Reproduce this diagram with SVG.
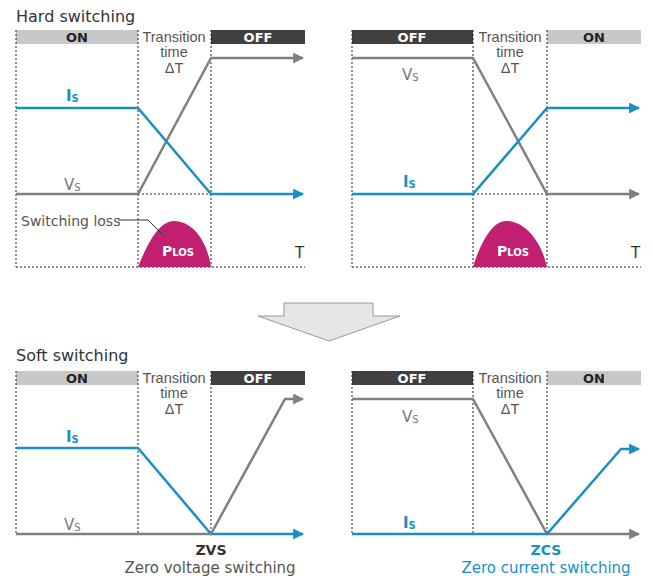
<svg xmlns="http://www.w3.org/2000/svg" width="653" height="576" viewBox="0 0 653 576">
<style>
text{font-family:"DejaVu Sans","Liberation Sans",sans-serif}
.title{font-size:16px;fill:#333}
.bar-lbl{font-size:13px;font-weight:bold;text-anchor:middle}
.tt{font-family:"Liberation Sans",Arial,sans-serif;font-size:14.5px;fill:#555;text-anchor:middle}
.dot{stroke:#222;stroke-width:1;stroke-dasharray:2,2;fill:none}
.vs{stroke:#808080;stroke-width:2.5;fill:none;stroke-linejoin:miter}
.is{stroke:#1a8fc6;stroke-width:2.5;fill:none}
.lblv{font-size:15px;fill:#777}
.lbli{font-size:15px;fill:#1a8fc6;font-weight:bold}
.sub{font-size:10px}
.loss{fill:#c0206f}
.ploss{font-size:14px;fill:#fff;font-weight:bold;text-anchor:middle}
</style>
<defs>
<marker id="ag" viewBox="0 0 10 10" refX="9" refY="5" markerWidth="4.4" markerHeight="4.4" orient="auto" markerUnits="strokeWidth"><path d="M0,0 L10,5 L0,10 Z" fill="#808080"/></marker>
<marker id="ab" viewBox="0 0 10 10" refX="9" refY="5" markerWidth="4.4" markerHeight="4.4" orient="auto" markerUnits="strokeWidth"><path d="M0,0 L10,5 L0,10 Z" fill="#1a8fc6"/></marker>
</defs>

<text class="title" x="16" y="22">Hard switching</text>
<text class="title" x="16" y="361">Soft switching</text>

<!-- Top-left panel -->
<g id="hard-on-off">
<rect x="16" y="30" width="122" height="14" fill="#c8c8c8"/>
<text class="bar-lbl" x="77" y="42" fill="#222">ON</text>
<rect x="211" y="30" width="94" height="14" fill="#404040"/>
<text class="bar-lbl" x="258" y="42" fill="#fff">OFF</text>
<text class="tt" x="174" y="42">Transition</text>
<text class="tt" x="174" y="57">time</text>
<text class="tt" x="174" y="73">ΔT</text>
<path class="dot" d="M16,30V267M138,30V267M211,30V267M16,267H305M138,194H211"/>
<path class="loss" d="M138,267 C146,247 158,221 174,221 C192,221 207,240 211,267 Z"/>
<text class="ploss" x="178" y="256">P<tspan class="sub" font-size="11">LOS</tspan></text>
<path d="M118,220H148L163,235" fill="none" stroke="#333" stroke-width="1"/>
<text x="21" y="226" font-size="14" fill="#555">Switching loss</text>
<text x="295" y="258" font-size="15" fill="#333">T</text>
<text class="lbli" x="66" y="101">I<tspan class="sub" dy="1">S</tspan></text>
<text class="lblv" x="64" y="190">V<tspan class="sub" dy="1">S</tspan></text>
</g>

<!-- Top-right panel -->
<g id="hard-off-on">
<rect x="352" y="30" width="121" height="14" fill="#404040"/>
<text class="bar-lbl" x="412" y="42" fill="#fff">OFF</text>
<rect x="547" y="30" width="94" height="14" fill="#c8c8c8"/>
<text class="bar-lbl" x="594" y="42" fill="#222">ON</text>
<text class="tt" x="510" y="42">Transition</text>
<text class="tt" x="510" y="57">time</text>
<text class="tt" x="510" y="73">ΔT</text>
<path class="dot" d="M352,30V267M473,30V267M547,30V267M352,267H641M473,194H547"/>
<path class="loss" d="M473,267 C479,247 491,221 506,221 C524,221 541,240 547,267 Z"/>
<text class="ploss" x="513" y="256">P<tspan class="sub" font-size="11">LOS</tspan></text>
<text x="631" y="258" font-size="15" fill="#333">T</text>
<text class="lblv" x="402" y="80">V<tspan class="sub" dy="1">S</tspan></text>
<text class="lbli" x="403" y="187">I<tspan class="sub" dy="1">S</tspan></text>
</g>

<!-- Bottom-left panel -->
<g id="soft-zvs">
<rect x="16" y="371" width="122" height="14" fill="#c8c8c8"/>
<text class="bar-lbl" x="77" y="383" fill="#222">ON</text>
<rect x="211" y="371" width="94" height="14" fill="#404040"/>
<text class="bar-lbl" x="258" y="383" fill="#fff">OFF</text>
<text class="tt" x="174" y="383">Transition</text>
<text class="tt" x="174" y="398">time</text>
<text class="tt" x="174" y="414">ΔT</text>
<path class="dot" d="M16,371V534M138,371V534M211,371V534"/>
<text class="lbli" x="66" y="442">I<tspan class="sub" dy="1">S</tspan></text>
<text class="lblv" x="64" y="530">V<tspan class="sub" dy="1">S</tspan></text>
<text x="211" y="555" font-size="14" font-weight="bold" fill="#333" text-anchor="middle">ZVS</text>
<text x="210" y="573" font-size="15" fill="#555" text-anchor="middle">Zero voltage switching</text>
</g>

<!-- Bottom-right panel -->
<g id="soft-zcs">
<rect x="352" y="371" width="121" height="14" fill="#404040"/>
<text class="bar-lbl" x="412" y="383" fill="#fff">OFF</text>
<rect x="547" y="371" width="94" height="14" fill="#c8c8c8"/>
<text class="bar-lbl" x="594" y="383" fill="#222">ON</text>
<text class="tt" x="510" y="383">Transition</text>
<text class="tt" x="510" y="398">time</text>
<text class="tt" x="510" y="414">ΔT</text>
<path class="dot" d="M352,371V534M473,371V534M547,371V534"/>
<text class="lblv" x="402" y="422">V<tspan class="sub" dy="1">S</tspan></text>
<text class="lbli" x="403" y="528">I<tspan class="sub" dy="1">S</tspan></text>
<text x="546" y="555" font-size="14" font-weight="bold" fill="#1a8fc6" text-anchor="middle">ZCS</text>
<text x="546" y="573" font-size="15" fill="#1a8fc6" text-anchor="middle">Zero current switching</text>
</g>

<g id="big-arrow">
<path d="M284,303H373V316H400L329,341L258,316H284Z" fill="#e6e6e6" stroke="#999" stroke-width="1"/>
</g>

<g id="connectors">
<path class="vs" d="M16,194H138L211,58H303" marker-end="url(#ag)"/>
<path class="is" d="M16,108H138L211,194H303" marker-end="url(#ab)"/>
<path class="vs" d="M352,58H473L547,194H639" marker-end="url(#ag)"/>
<path class="is" d="M352,194H473L547,108H639" marker-end="url(#ab)"/>
<path class="is" d="M16,448H138L211,534H303" marker-end="url(#ab)"/>
<path class="vs" d="M16,534H211L285,399H303" marker-end="url(#ag)"/>
<path class="vs" d="M352,399H473L547,534H639" marker-end="url(#ag)"/>
<path class="is" d="M352,534H547L621,449H639" marker-end="url(#ab)"/>
</g>
</svg>
